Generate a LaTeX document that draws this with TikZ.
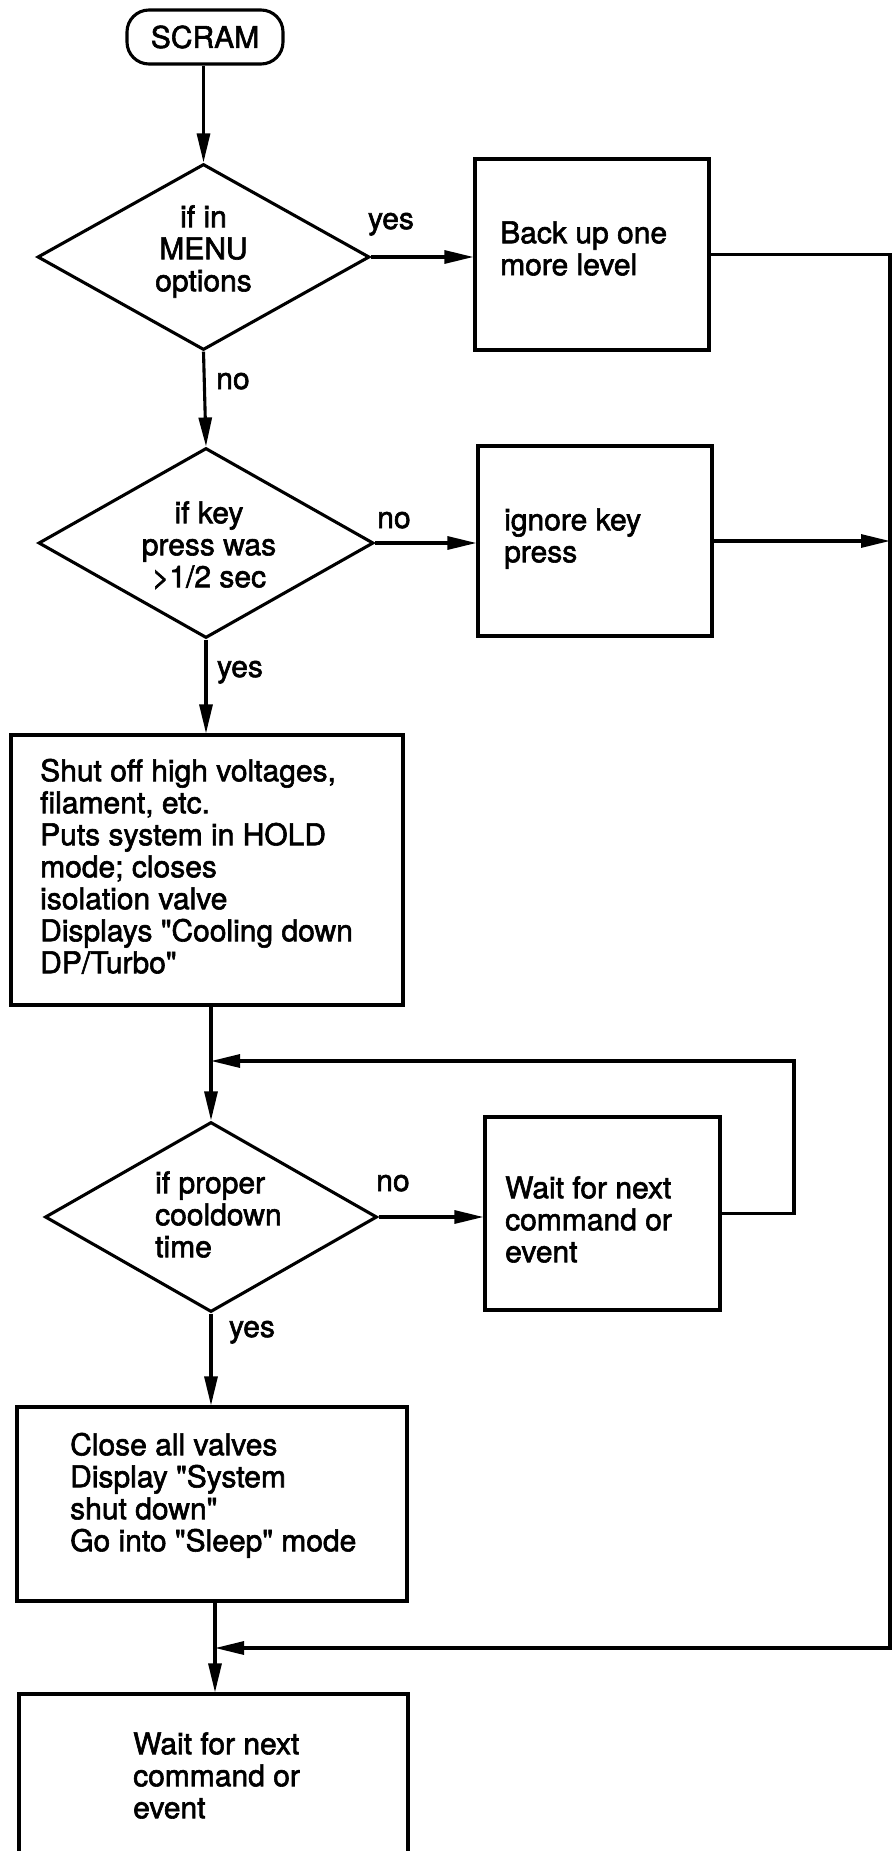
\documentclass[tikz,border=0pt]{standalone}
\usepackage{fontspec}
\setmainfont{TeX Gyre Heros}[Ligatures=TeXOff,FakeBold=2]
\usetikzlibrary{shapes.geometric,arrows.meta}
\newcommand{\myst}{\rule{0pt}{24pt}}
\begin{document}
\begin{tikzpicture}[x=1pt,y=-1pt,
  every node/.style={font=\fontsize{30}{32}\selectfont},
  ln/.style={line width=3.1pt},
  arr/.style={line width=3.1pt,-{Triangle[length=29pt,width=13pt]}},
  boxshape/.style={draw,line width=3.1pt,rectangle,inner sep=0pt},
  decision/.style={draw,line width=3.1pt,diamond,inner sep=0pt},
  tl/.style={anchor=north west,align=left,inner sep=0pt},
  tc/.style={anchor=north,align=center,inner sep=0pt},
  lbl/.style={anchor=base,inner sep=0pt}]
\useasboundingbox (0,0) rectangle (895,1851);
\clip (0,0) rectangle (895,1851);
\fill[white] (0,0) rectangle (895,1851);

% shapes
\node[draw,line width=3.1pt,rounded corners=22pt,minimum width=156pt,minimum height=54pt,inner sep=0pt] (scram) at (205,37) {SCRAM};
\node[decision,minimum width=332pt,minimum height=186pt] (d1) at (203.5,257) {};
\node[boxshape,minimum width=234pt,minimum height=191pt] (b1) at (592,254.5) {};
\node[decision,minimum width=335pt,minimum height=190pt] (d2) at (206,543) {};
\node[boxshape,minimum width=234pt,minimum height=190pt] (b2) at (595,541) {};
\node[boxshape,minimum width=392pt,minimum height=270pt] (b3) at (207,870) {};
\node[decision,minimum width=332pt,minimum height=190pt] (d3) at (211,1217) {};
\node[boxshape,minimum width=235pt,minimum height=193pt] (b4) at (602.5,1213.5) {};
\node[boxshape,minimum width=390pt,minimum height=194pt] (b5) at (212,1504) {};
\node[boxshape,minimum width=389pt,minimum height=260pt] (b6) at (213.5,1824) {};

% texts
\node[tc] (t1) at (203.5,203) {\myst if in\\MENU\\options};
\node[tl] (t2) at (500,219) {\myst Back up one\\more level};
\node[tc] (t3) at (209,499) {\myst if key\\press was\\>1/2 sec};
\node[tl] (t4) at (504,506) {\myst ignore key\\press};
\node[tl] (t5) at (40,757) {\myst Shut off high voltages,\\filament, etc.\\Puts system in HOLD\\mode; closes\\isolation valve\\Displays "Cooling down\\DP/Turbo"};
\node[tl] (t6) at (155,1169) {\myst if proper\\cooldown\\time};
\node[tl] (t7) at (505,1174) {\myst Wait for next\\command or\\event};
\node[tl] (t8) at (70,1431) {\myst Close all valves\\Display "System\\shut down"\\Go into "Sleep" mode};
\node[tl] (t9) at (133,1730) {\myst Wait for next\\command or\\event};

% labels
\node[lbl] (l1) at (391,229) {yes};
\node[lbl] (l2) at (233,389) {no};
\node[lbl] (l3) at (394,528) {no};
\node[lbl] (l4) at (240,677) {yes};
\node[lbl] (l5) at (393,1191) {no};
\node[lbl] (l6) at (252,1337) {yes};

% junction coordinates
\coordinate (j1) at (211,1061);
\coordinate (j2) at (215,1648);
\coordinate (rt) at (890,254.5);
\coordinate (lp) at (794,1213.5);

% connectors
\draw[arr] (scram.south -| d1.north) -- (d1.north);
\draw[arr] (d1.east) -- (b1.west |- d1.east);
\draw[arr] (d1.south) -- (d2.north);
\draw[arr] (d2.east) -- (b2.west |- d2.east);
\draw[arr] (d2.south) -- (b3.north -| d2.south);
\draw[arr] (b3.south -| j1) -- (d3.north);
\draw[arr] (d3.east) -- (b4.west |- d3.east);
\draw[arr] (b4.east) -- (lp) |- (j1);
\draw[arr] (d3.south) -- (b5.north -| d3.south);
\draw[arr] (b5.south -| j2) -- (b6.north -| j2);
\draw[arr] (b1.east) -- (rt) |- (j2);
\draw[arr] (b2.east) -- (b2.east -| rt);
\end{tikzpicture}
\end{document}
